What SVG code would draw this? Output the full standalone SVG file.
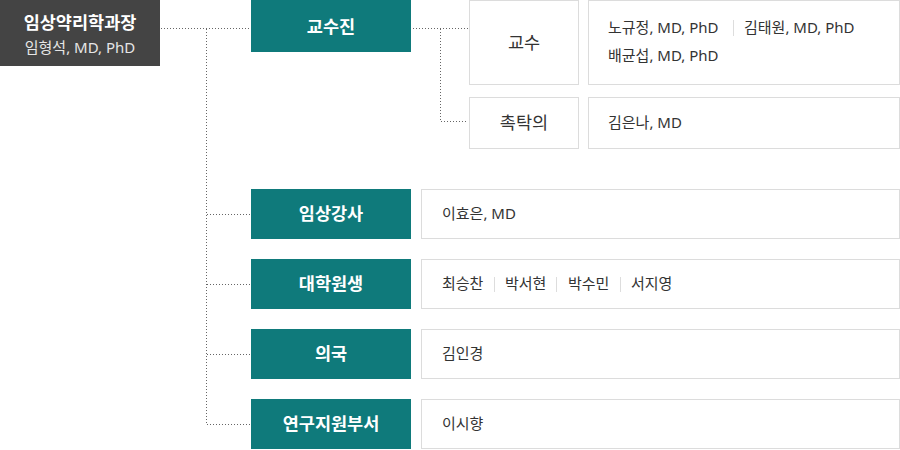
<svg xmlns="http://www.w3.org/2000/svg" width="900" height="450" viewBox="0 0 900 450">
<style>
.dot{fill:none;stroke:#666;stroke-width:1;stroke-dasharray:1 2}
.teal{fill:#0f7a7b}
.box{fill:#fff;stroke:#dcdcdc;stroke-width:1}
.sep{stroke:#ddd;stroke-width:1}
text{font-family:"Noto Sans","Noto Sans CJK KR",sans-serif}
.tt{fill:#fff;font-size:17.5px;font-weight:bold;text-anchor:middle}
.lb{fill:#333;font-size:17.5px;text-anchor:middle}
.nm{fill:#333;font-size:15px}
</style>
<rect width="900" height="450" fill="#fff"/>
<g id="connectors">
<path class="dot" d="M161 28.5H250M206.5 29V424.5M207 214.5H250M207 284.5H250M207 354.5H250M207 424.5H250"/>
<path class="dot" d="M413 28.5H468M440.5 29V121.5H468"/>
</g>
<g id="head">
<rect x="0" y="0" width="160" height="66" fill="#444"/>
<text x="80" y="29" fill="#fff" font-size="17.5" font-weight="bold" text-anchor="middle">임상약리학과장</text>
<text x="80" y="53" fill="#e6e6e6" font-size="15" text-anchor="middle">임형석, MD, PhD</text>
</g>
<g id="faculty">
<rect class="teal" x="251" y="0" width="160" height="52"/>
<text class="tt" x="331" y="33">교수진</text>
</g>
<g id="professor">
<rect class="box" x="469.5" y="0.5" width="109" height="84"/>
<text class="lb" x="524" y="49">교수</text>
<rect class="box" x="588.5" y="0.5" width="311" height="84"/>
<text class="nm" x="608" y="33">노규정, MD, PhD</text>
<line class="sep" x1="733.5" y1="20" x2="733.5" y2="36"/>
<text class="nm" x="744" y="33">김태원, MD, PhD</text>
<text class="nm" x="608" y="61">배균섭, MD, PhD</text>
</g>
<g id="commissioned">
<rect class="box" x="469.5" y="97.5" width="109" height="51"/>
<text class="lb" x="524" y="129">촉탁의</text>
<rect class="box" x="588.5" y="97.5" width="311" height="51"/>
<text class="nm" x="608" y="128">김은나, MD</text>
</g>
<g id="lecturer">
<rect class="teal" x="251" y="189" width="160" height="50"/>
<text class="tt" x="331" y="220">임상강사</text>
<rect class="box" x="421.5" y="189.5" width="478" height="49"/>
<text class="nm" x="442" y="219">이효은, MD</text>
</g>
<g id="graduate">
<rect class="teal" x="251" y="259" width="160" height="50"/>
<text class="tt" x="331" y="290">대학원생</text>
<rect class="box" x="421.5" y="259.5" width="478" height="49"/>
<text class="nm" x="442" y="289">최승찬</text>
<line class="sep" x1="494.5" y1="277" x2="494.5" y2="292"/>
<text class="nm" x="505" y="289">박서현</text>
<line class="sep" x1="556.5" y1="277" x2="556.5" y2="292"/>
<text class="nm" x="568" y="289">박수민</text>
<line class="sep" x1="620.5" y1="277" x2="620.5" y2="292"/>
<text class="nm" x="631" y="289">서지영</text>
</g>
<g id="resident">
<rect class="teal" x="251" y="329" width="160" height="50"/>
<text class="tt" x="331" y="360">의국</text>
<rect class="box" x="421.5" y="329.5" width="478" height="49"/>
<text class="nm" x="442" y="359">김인경</text>
</g>
<g id="support">
<rect class="teal" x="251" y="399" width="160" height="50"/>
<text class="tt" x="331" y="430">연구지원부서</text>
<rect class="box" x="421.5" y="399.5" width="478" height="49"/>
<text class="nm" x="442" y="429">이시향</text>
</g>
</svg>
